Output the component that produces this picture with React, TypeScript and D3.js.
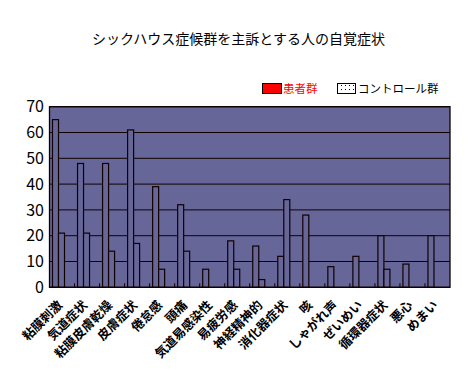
import React from "react";
import * as d3 from "d3";

const title = "シックハウス症候群を主訴とする人の自覚症状";
const categories = [
  "粘膜刺激", "気道症状", "粘膜皮膚乾燥", "皮膚症状", "倦怠感", "頭痛",
  "気道易感染性", "易疲労感", "神経精神的", "消化器症状", "咳", "しゃがれ声",
  "ぜいめい", "循環器症状", "悪心", "めまい",
];
const seriesNames = ["患者群", "コントロール群"];
const patients = [65, 48, 48, 61, 39, 32, 7, 18, 16, 12, 28, 8, 12, 20, 9, 20];
const controls = [21, 21, 14, 17, 7, 14, 0, 7, 3, 34, 0, 0, 0, 7, 0, 0];
const yTicks = [0, 10, 20, 30, 40, 50, 60, 70];

const W = 470, H = 371;
const left = 49.5, right = 450, top = 106.7, bottom = 287.3;
const FONT = "'Noto Sans CJK JP', 'Noto Sans', sans-serif";
const LINE = "#100";
const BG = "#666699";

export default function App() {
  const x = d3.scaleBand<string>().domain(categories).range([left, right]).padding(0);
  const xSub = d3.scaleBand<string>().domain(seriesNames).range([3, 15]).padding(0);
  const y = d3.scaleLinear().domain([0, 70]).range([bottom, top]);
  const series = [patients, controls];

  return (
    <div style={{ position: "absolute", left: 0, top: 0 }}>
      <svg width={W} height={H} style={{ display: "block", background: "#fff" }}>
        <defs>
          <pattern id="dots" width="4" height="4" patternUnits="userSpaceOnUse">
            <rect width="4" height="4" fill="#fff" />
            <rect x="1" y="1" width="1" height="1" fill="#000" />
          </pattern>
        </defs>
        <text x={238.5} y={44} textAnchor="middle" fontFamily={FONT} fontSize={14} fill="#000">
          {title}
        </text>
        {/* legend */}
        <rect x={262.5} y={83.5} width={19} height={10} fill="#ff0000" stroke="#000" strokeWidth={1} />
        <text x={283} y={93} fontFamily={FONT} fontSize={11.5} fill="#ff0000">{seriesNames[0]}</text>
        <rect x={337.5} y={83.5} width={18} height={10} fill="url(#dots)" stroke="#000" strokeWidth={1} />
        <text x={358} y={93} fontFamily={FONT} fontSize={11.5} fill="#000">{seriesNames[1]}</text>

        {/* plot area */}
        <rect x={left} y={top} width={right - left} height={bottom - top} fill={BG} />
        {yTicks.map((t) => (
          <line key={"g" + t} x1={left} x2={right} y1={y(t)} y2={y(t)} stroke={LINE} strokeWidth={1} />
        ))}
        {categories.map((c, i) =>
          series.map((s, j) =>
            s[i] > 0 ? (
              <rect
                key={c + j}
                x={(x(c) as number) + (xSub(seriesNames[j]) as number)}
                y={y(s[i])}
                width={xSub.bandwidth()}
                height={y(0) - y(s[i])}
                fill={BG}
                stroke={LINE}
                strokeWidth={1.2}
              />
            ) : null
          )
        )}
        {categories.slice(1).map((c) => (
          <line key={"t" + c} x1={x(c)} x2={x(c)} y1={bottom} y2={bottom - 4} stroke={LINE} strokeWidth={1} />
        ))}
        <rect x={left} y={top} width={right - left} height={bottom - top} fill="none" stroke={LINE} strokeWidth={1.3} />

        {/* y tick labels */}
        {yTicks.map((t) => (
          <text key={"y" + t} x={44} y={y(t)} dy="0.36em" textAnchor="end" fontFamily={FONT} fontSize={16} fill="#000">
            {t}
          </text>
        ))}

        {/* x labels */}
        {categories.map((c) => {
          const cx = (x(c) as number) + x.bandwidth() / 2 + 1;
          return (
            <text
              key={"x" + c}
              transform={`translate(${cx},306) rotate(-45)`}
              textAnchor="end"
              fontFamily={FONT}
              fontWeight="bold"
              fontSize={12.5}
              fill="#000"
            >
              {c}
            </text>
          );
        })}
      </svg>
    </div>
  );
}
